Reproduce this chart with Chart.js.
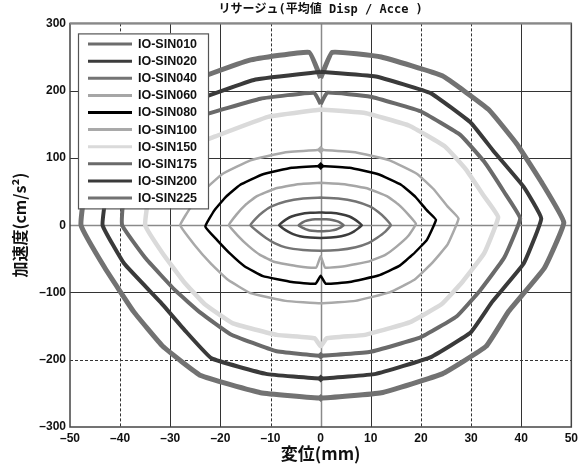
<!DOCTYPE html>
<html>
<head>
<meta charset="utf-8">
<script src="https://cdn.jsdelivr.net/npm/chart.js@4.4.1/dist/chart.umd.min.js"></script>
<style>
  body { margin: 0; background: #fff; }
  canvas { display: block; }
</style>
</head>
<body>
<canvas id="chart-lissajous" width="582" height="472"></canvas>
<script>
// ------------ Données (x = mm, y = cm/s2) ------------
const X_TICKS = [-50, -40, -30, -20, -10, 0, 10, 20, 30, 40, 50];
const Y_TICKS = [-300, -200, -100, 0, 100, 200, 300];
const DASHED_X = [-40, -10, 20, 30];
const DASHED_Y = [-200];

const SERIES = ["IO-SIN010","IO-SIN020","IO-SIN040","IO-SIN060","IO-SIN080","IO-SIN100","IO-SIN150","IO-SIN175","IO-SIN200","IO-SIN225"];

const IO_SIN010 = [[0,9],[1.15,8.7],[2.3,7.7],[3.2,6.1],[3.8,4.3],[4.2,2.3],[4.6,0],[4.2,-2.3],[3.7,-4.5],[3.1,-6.3],[2.3,-7.7],[1.15,-8.7],[0,-9],[-1.1,-8.7],[-2.2,-7.8],[-2.9,-6.3],[-3.4,-4.5],[-4,-2.3],[-4.4,0],[-4,2.3],[-3.6,4.3],[-3.1,6.1],[-2.2,7.7],[-1.1,8.7],[0,9]];
const IO_SIN020 = [[0,19],[2.05,18.4],[4.1,16.3],[5.75,12.9],[6.7,9.1],[7.5,4.75],[8.2,0],[7.5,-4.75],[6.6,-9.5],[5.6,-13.3],[4.1,-16.3],[2.05,-18.4],[0,-19],[-2.1,-18.4],[-4.15,-16.5],[-5.5,-13.3],[-6.5,-9.5],[-7.5,-4.75],[-8.3,0],[-7.6,4.75],[-6.8,9.1],[-5.8,12.9],[-4.15,16.3],[-2.1,18.4],[0,19]];
const IO_SIN040 = [[0,41],[3.5,39.8],[7,35.3],[9.8,27.9],[11.5,19.7],[12.9,10.3],[14,0],[12.9,-9.5],[11.2,-19],[9.5,-26.6],[7,-32.7],[3.5,-36.9],[0,-38],[-3.5,-36.9],[-7,-33],[-9.2,-26.6],[-10.9,-19],[-12.6,-9.5],[-14,0],[-12.9,10.3],[-11.5,19.7],[-9.8,27.9],[-7,35.3],[-3.5,39.8],[0,41]];
const IO_SIN060 = [[0,63],[4.75,61],[9.5,54.2],[13.3,42.8],[15.6,30.2],[17.5,15.75],[19,2],[17.5,-15.75],[15.2,-31.5],[12.9,-44.1],[9.5,-54.2],[4.75,-61],[0.9,-63],[0,-46],[-0.9,-63],[-4.6,-61],[-9.15,-54.8],[-12.1,-44.1],[-14.3,-31.5],[-16.5,-15.75],[-18.3,0],[-16.8,15.75],[-15,30.2],[-12.8,42.8],[-9.15,54.2],[-4.6,61],[0,63]];
const IO_SIN080 = [[0,88],[5.75,85.4],[11.5,75.7],[16.1,59.8],[18.9,42.2],[21.2,22],[23,8],[21.2,-21.75],[18.4,-43.5],[15.6,-60.9],[11.5,-74.8],[5.75,-84.4],[1,-87],[0,-75],[-1,-87],[-5.75,-84.4],[-11.5,-75.7],[-15.2,-60.9],[-17.9,-43.5],[-20.7,-21.75],[-23,-2],[-21.2,22],[-18.9,42.2],[-16.1,59.8],[-11.5,75.7],[-5.75,85.4],[0,88]];
const IO_SIN100 = [[0,112],[6.9,108.6],[13.75,96.3],[19.25,76.2],[22.5,53.8],[25.3,28],[27.5,10],[25.3,-29],[22,-58],[18.7,-81.2],[13.75,-99.8],[6.9,-112.5],[0,-116],[-7,-112.5],[-14,-101],[-18.5,-81.2],[-21.8,-58],[-25.2,-29],[-28,0],[-25.8,28],[-23,53.8],[-19.6,76.2],[-14,96.3],[-7,108.6],[0,112]];
const IO_SIN150 = [[0,172],[8.85,166.8],[17.7,147.9],[24.8,117],[29,82.6],[32.6,43],[35.4,12],[32.6,-42],[28.3,-84],[24.1,-117.6],[17.7,-144.5],[8.85,-163],[1.2,-168],[0,-180],[-1.2,-168],[-8.75,-163],[-17.5,-146],[-23.1,-117.6],[-27.3,-84],[-31.5,-42],[-35,0],[-34.3,43],[-32.6,80],[-28.5,110],[-21,132],[-10.5,161],[0,172]];
const IO_SIN175 = [[0,180],[1.3,197],[9.95,191],[19.9,169.4],[27.9,134],[32.6,94.6],[36.6,49.3],[39.8,10],[36.6,-48.5],[31.8,-97],[27.1,-135.8],[19.9,-166.8],[9.95,-188.2],[0,-194],[-9,-187],[-18,-162],[-24,-130],[-29,-97],[-35,-48.5],[-39.6,0],[-39.2,49],[-38.2,95],[-34.5,133],[-25,160],[-12,188],[-1.3,197],[0,180]];
const IO_SIN200 = [[0,228],[11,221],[22,196],[30,152],[34.5,110],[40.5,57],[44,10],[40.5,-57],[34.2,-114],[29.9,-159.6],[22,-196],[11,-221],[0,-228],[-10.9,-221],[-21.75,-198],[-27,-157],[-32,-114],[-39.2,-57],[-43.5,0],[-42.6,57],[-41.8,102.6],[-35.7,148],[-26.1,182.4],[-13,216.6],[0,228]];
const IO_SIN225 = [[0,219],[2.3,257],[12.1,250],[24.25,222],[33.5,172],[39.2,120],[44.2,62],[48.5,4],[44.6,-64],[37.5,-128],[33,-180],[24.25,-221],[12.1,-249],[0,-257],[-12,-249],[-23.9,-223.6],[-31.5,-180],[-37.3,-128.5],[-43,-64],[-47.8,0],[-46.8,64.5],[-44.9,116],[-39.2,167.7],[-28.7,206.4],[-14.3,245],[-2.3,257],[0,219]];

const LOOPS = [IO_SIN010, IO_SIN020, IO_SIN040, IO_SIN060, IO_SIN080, IO_SIN100, IO_SIN150, IO_SIN175, IO_SIN200, IO_SIN225];

// petits repères posés sur l'axe x = 0
const MARK_X = [0, 0, 0, 0, 0];
const MARK_Y = [88, 112, -194, -228, -257];
const MARK_OF = [4, 5, 7, 8, 9]; // index de la série

// ------------ Styles ------------
const COLORS = ["#6c6c6c","#3c3c3c","#747474","#a6a6a6","#000000","#a9a9a9","#dadada","#6a6a6a","#3a3a3a","#727272"];
const WIDTHS = [2.5, 2.5, 2.5, 2.5, 2.5, 2.5, 4.5, 4, 4, 5];

const FONT_JP = "'Noto Sans CJK JP', 'Noto Sans', sans-serif";
const FONT_TITLE = "'DejaVu Sans Mono', 'Noto Sans CJK JP', monospace";
const FONT_NUM = "'Liberation Sans Narrow', 'Liberation Sans', Arial, sans-serif";

// ------------ Helpers ------------
function toPoints(arr){ return arr.map(([x,y]) => ({x, y})); }
function dashLabel(v){ return String(v).replace("-", "\u2013"); }

// grille (certaines lignes en pointillés comme sur l'original) + cadre + légende
const gridPlugin = {
  id: "grid",
  beforeDatasetsDraw(chart){
    const {ctx, chartArea: ca, scales: {x, y}} = chart;
    ctx.save();
    X_TICKS.forEach(v => {
      if (v === X_TICKS[0] || v === X_TICKS[X_TICKS.length-1]) return;
      const px = Math.round(x.getPixelForValue(v)) + 0.5;
      ctx.setLineDash(DASHED_X.includes(v) ? [3,2] : []);
      ctx.strokeStyle = v === 0 ? "#8a8a8a" : "#333";
      ctx.lineWidth = v === 0 ? 1.5 : 1;
      ctx.beginPath(); ctx.moveTo(px, ca.top); ctx.lineTo(px, ca.bottom); ctx.stroke();
    });
    Y_TICKS.forEach(v => {
      if (v === Y_TICKS[0] || v === Y_TICKS[Y_TICKS.length-1]) return;
      const py = Math.round(y.getPixelForValue(v)) + 0.5;
      ctx.setLineDash(DASHED_Y.includes(v) ? [3,2] : []);
      ctx.strokeStyle = v === 0 ? "#8a8a8a" : "#333";
      ctx.lineWidth = v === 0 ? 1.5 : 1;
      ctx.beginPath(); ctx.moveTo(ca.left, py); ctx.lineTo(ca.right, py); ctx.stroke();
    });
    ctx.restore();
  },
  afterDatasetsDraw(chart){
    const {ctx, chartArea: ca} = chart;
    ctx.save();
    // cadre
    ctx.strokeStyle = "#444"; ctx.lineWidth = 1.5;
    ctx.strokeRect(ca.left, ca.top, ca.right - ca.left, ca.bottom - ca.top);
    ctx.strokeStyle = "#888"; ctx.lineWidth = 2;
    ctx.beginPath(); ctx.moveTo(ca.left, ca.top); ctx.lineTo(ca.right, ca.top); ctx.stroke();

    // légende dans la zone du graphique
    const bx = ca.left + 8, by = ca.top + 10, bw = 130, bh = 175;
    ctx.fillStyle = "#fff";
    ctx.fillRect(bx, by, bw, bh);
    ctx.strokeStyle = "#555"; ctx.lineWidth = 1.2;
    ctx.strokeRect(bx + 0.5, by + 0.5, bw, bh);
    ctx.font = "bold 12.5px " + FONT_NUM;
    ctx.textBaseline = "middle";
    SERIES.forEach((name, i) => {
      const ly = by + 10.7 + i * 17.1;
      ctx.strokeStyle = COLORS[i]; ctx.lineWidth = 3;
      ctx.beginPath(); ctx.moveTo(bx + 10, ly); ctx.lineTo(bx + 54, ly); ctx.stroke();
      ctx.fillStyle = "#111";
      ctx.fillText(name, bx + 60, ly + 0.5);
    });
    ctx.restore();
  }
};

// ------------ Main ------------
const datasets = LOOPS.map((loop, i) => ({
  label: SERIES[i],
  data: toPoints(loop),
  showLine: true,
  borderColor: COLORS[i],
  borderWidth: WIDTHS[i],
  pointRadius: 0,
  tension: 0.1,
  borderJoinStyle: "round"
}));

datasets.push({
  label: "marks",
  data: MARK_X.map((x, i) => ({x, y: MARK_Y[i]})),
  showLine: false,
  pointStyle: "rectRot",
  pointRadius: 4,
  pointBackgroundColor: MARK_OF.map(k => COLORS[k]),
  pointBorderColor: MARK_OF.map(k => COLORS[k]),
  pointBorderWidth: 0
});

const ctx = document.getElementById("chart-lissajous").getContext("2d");
new Chart(ctx, {
  type: "scatter",
  data: { datasets },
  options: {
    responsive: false,
    animation: false,
    layout: { padding: { top: 0, right: 9, left: 0, bottom: 0 } },
    plugins: {
      legend: { display: false },
      tooltip: { enabled: false },
      title: {
        display: true,
        fullSize: false,
        text: "リサージュ(平均値 Disp / Acce )",
        color: "#111",
        font: { family: FONT_TITLE, size: 12, weight: "bold" },
        padding: { top: 3, bottom: 6 }
      }
    },
    scales: {
      x: {
        type: "linear", min: -50, max: 50,
        afterBuildTicks: s => { s.ticks = X_TICKS.map(v => ({value: v})); },
        afterFit: s => { s.height = 45; },
        grid: { display: false, drawTicks: false },
        border: { display: false },
        ticks: { color: "#111", padding: 4, font: { family: FONT_NUM, size: 12, weight: "bold" }, callback: dashLabel },
        title: { display: true, text: "変位(mm)", color: "#111", padding: { top: 2, bottom: 8 }, font: { family: FONT_JP, size: 17, weight: "bold" } }
      },
      y: {
        type: "linear", min: -300, max: 300,
        afterBuildTicks: s => { s.ticks = Y_TICKS.map(v => ({value: v})); },
        afterFit: s => { s.width = 70; },
        grid: { display: false, drawTicks: false },
        border: { display: false },
        ticks: { color: "#111", padding: 4, font: { family: FONT_NUM, size: 12, weight: "bold" }, callback: dashLabel },
        title: { display: true, text: "加速度(cm/s²)", color: "#111", padding: { top: 10, bottom: 0 }, font: { family: FONT_JP, size: 16, weight: "bold" } }
      }
    }
  },
  plugins: [gridPlugin]
});
</script>
</body>
</html>
